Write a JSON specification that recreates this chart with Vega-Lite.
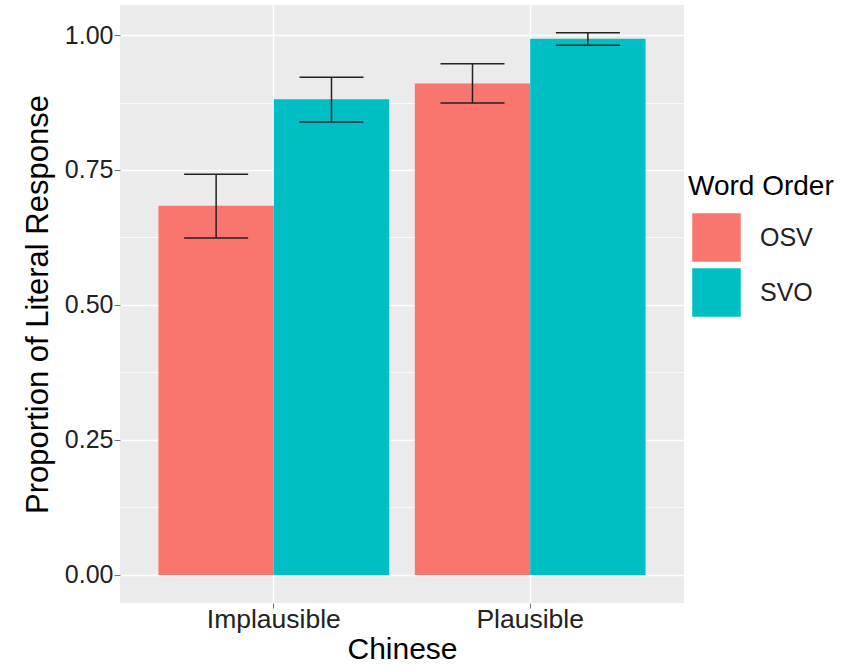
{
  "$schema": "https://vega.github.io/schema/vega-lite/v6.json",
  "width": 564,
  "height": 598,
  "autosize": {"type": "none"},
  "padding": {"left": 120, "top": 5, "right": 164, "bottom": 62},
  "background": "white",
  "config": {
    "view": {"fill": "#EBEBEB", "stroke": null},
    "font": "Liberation Sans"
  },
  "data": {
    "values": [
      {"plaus": "Implausible", "order": "OSV", "prop": 0.684, "lo": 0.624, "hi": 0.742},
      {"plaus": "Implausible", "order": "SVO", "prop": 0.881, "lo": 0.839, "hi": 0.922},
      {"plaus": "Plausible", "order": "OSV", "prop": 0.910, "lo": 0.874, "hi": 0.947},
      {"plaus": "Plausible", "order": "SVO", "prop": 0.993, "lo": 0.981, "hi": 1.004}
    ]
  },
  "resolve": {"axis": {"y": "independent"}},
  "layer": [
    {
      "mark": {"type": "tick", "opacity": 0},
      "encoding": {
        "y": {
          "field": "prop", "type": "quantitative",
          "scale": {"domain": [-0.052, 1.0556], "nice": false, "zero": false},
          "axis": {"orient": "right", "values": [0.125, 0.375, 0.625, 0.875], "labels": false, "ticks": false, "domain": false, "grid": true, "gridColor": "white", "gridWidth": 0.8, "title": null}
        }
      }
    },
    {
      "encoding": {
        "x": {
          "field": "plaus", "type": "nominal", "title": "Chinese",
          "scale": {"paddingInner": 0.1, "paddingOuter": 0.15},
          "axis": {"labelFontSize": 26.5, "labelColor": "#222", "labelAngle": 0, "tickColor": "#777", "tickSize": 5, "labelPadding": -2, "domain": false, "grid": true, "gridColor": "white", "gridWidth": 1.5, "bandPosition": 0.5, "titleFontSize": 30, "titleFontWeight": "normal", "titleColor": "black", "titlePadding": 2}
        },
        "xOffset": {"field": "order", "type": "nominal", "scale": {"paddingInner": 0, "paddingOuter": 0}}
      },
      "layer": [
        {
          "mark": {"type": "bar"},
          "encoding": {
            "y": {
              "field": "prop", "type": "quantitative", "title": "Proportion of Literal Response",
              "scale": {"domain": [-0.052, 1.0556], "nice": false, "zero": false},
              "axis": {"values": [0, 0.25, 0.5, 0.75, 1], "format": ".2f", "labelFontSize": 25, "labelColor": "#222", "tickColor": "#777", "tickSize": 6, "labelPadding": 1, "domain": false, "grid": true, "gridColor": "white", "gridWidth": 1.5, "titleFontSize": 31, "titleFontWeight": "normal", "titleColor": "black", "titlePadding": 10}
            },
            "y2": {"datum": 0},
            "color": {
              "field": "order", "type": "nominal",
              "scale": {"domain": ["OSV", "SVO"], "range": ["#F8766D", "#00BFC4"]},
              "legend": {"orient": "none", "legendX": 568, "legendY": 168, "title": "Word Order", "titleFontSize": 28, "titleFontWeight": "normal", "titleColor": "black", "labelFontSize": 25, "labelColor": "#222", "symbolType": "square", "symbolSize": 2350, "symbolStrokeWidth": 0, "symbolOpacity": 1, "symbolOffset": 4, "labelOffset": 19, "rowPadding": 6, "titlePadding": 12, "padding": 0}
            }
          }
        },
        {
          "mark": {"type": "rule", "color": "#222", "strokeWidth": 1.5},
          "encoding": {
            "y": {"field": "lo", "type": "quantitative", "title": "Proportion of Literal Response"},
            "y2": {"field": "hi"}
          }
        },
        {
          "mark": {"type": "tick", "color": "#222", "size": 64, "thickness": 1.5, "opacity": 1},
          "encoding": {
            "y": {"field": "lo", "type": "quantitative", "title": "Proportion of Literal Response"}
          }
        },
        {
          "mark": {"type": "tick", "color": "#222", "size": 64, "thickness": 1.5, "opacity": 1},
          "encoding": {
            "y": {"field": "hi", "type": "quantitative", "title": "Proportion of Literal Response"}
          }
        }
      ]
    }
  ]
}
